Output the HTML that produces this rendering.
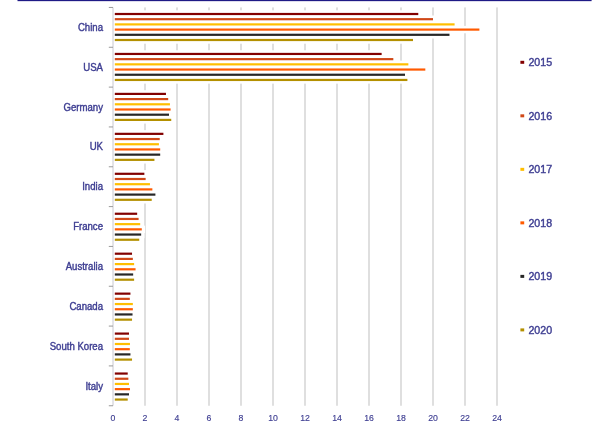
<!DOCTYPE html>
<html><head><meta charset="utf-8"><style>
html,body{margin:0;padding:0;background:#fff;width:600px;height:430px;overflow:hidden}
svg{display:block;filter:blur(0.45px)}
.t{font-family:"Liberation Sans",sans-serif;font-size:10px;fill:#3e3e92;stroke:#3e3e92;stroke-width:0.4}
.tx{font-family:"Liberation Sans",sans-serif;font-size:9.7px;fill:#3e3e92;stroke:#3e3e92;stroke-width:0.15}
.lg{font-family:"Liberation Sans",sans-serif;font-size:11px;fill:#3e3e92;stroke:#3e3e92;stroke-width:0.4}
</style></head><body>
<svg width="600" height="430" viewBox="0 0 600 430">
<rect width="600" height="430" fill="#fff"/>
<rect x="17.5" y="0" width="574.1" height="1.15" fill="#1f1a86"/>
<line x1="145.00" y1="7.45" x2="145.00" y2="405.75" stroke="#bcbcbc" stroke-width="0.95"/>
<line x1="177.00" y1="7.45" x2="177.00" y2="405.75" stroke="#bcbcbc" stroke-width="0.95"/>
<line x1="209.00" y1="7.45" x2="209.00" y2="405.75" stroke="#bcbcbc" stroke-width="0.95"/>
<line x1="241.00" y1="7.45" x2="241.00" y2="405.75" stroke="#bcbcbc" stroke-width="0.95"/>
<line x1="273.00" y1="7.45" x2="273.00" y2="405.75" stroke="#bcbcbc" stroke-width="0.95"/>
<line x1="305.00" y1="7.45" x2="305.00" y2="405.75" stroke="#bcbcbc" stroke-width="0.95"/>
<line x1="337.00" y1="7.45" x2="337.00" y2="405.75" stroke="#bcbcbc" stroke-width="0.95"/>
<line x1="369.00" y1="7.45" x2="369.00" y2="405.75" stroke="#bcbcbc" stroke-width="0.95"/>
<line x1="401.00" y1="7.45" x2="401.00" y2="405.75" stroke="#bcbcbc" stroke-width="0.95"/>
<line x1="433.00" y1="7.45" x2="433.00" y2="405.75" stroke="#bcbcbc" stroke-width="0.95"/>
<line x1="465.00" y1="7.45" x2="465.00" y2="405.75" stroke="#bcbcbc" stroke-width="0.95"/>
<line x1="497.00" y1="7.45" x2="497.00" y2="405.75" stroke="#bcbcbc" stroke-width="0.95"/>
<rect x="111.50" y="10.30" width="310.08" height="7.40" fill="#fff"/>
<rect x="111.50" y="15.50" width="324.80" height="7.40" fill="#fff"/>
<rect x="111.50" y="20.70" width="346.40" height="7.40" fill="#fff"/>
<rect x="111.50" y="25.90" width="371.20" height="7.40" fill="#fff"/>
<rect x="111.50" y="31.10" width="341.28" height="7.40" fill="#fff"/>
<rect x="111.50" y="36.30" width="304.80" height="7.40" fill="#fff"/>
<rect x="111.50" y="50.25" width="273.44" height="7.40" fill="#fff"/>
<rect x="111.50" y="55.45" width="285.12" height="7.40" fill="#fff"/>
<rect x="111.50" y="60.65" width="300.16" height="7.40" fill="#fff"/>
<rect x="111.50" y="65.85" width="317.12" height="7.40" fill="#fff"/>
<rect x="111.50" y="71.05" width="296.80" height="7.40" fill="#fff"/>
<rect x="111.50" y="76.25" width="299.20" height="7.40" fill="#fff"/>
<rect x="111.50" y="90.20" width="57.76" height="7.40" fill="#fff"/>
<rect x="111.50" y="95.40" width="60.00" height="7.40" fill="#fff"/>
<rect x="111.50" y="100.60" width="61.76" height="7.40" fill="#fff"/>
<rect x="111.50" y="105.80" width="62.40" height="7.40" fill="#fff"/>
<rect x="111.50" y="111.00" width="60.80" height="7.40" fill="#fff"/>
<rect x="111.50" y="116.20" width="63.04" height="7.40" fill="#fff"/>
<rect x="111.50" y="130.15" width="55.20" height="7.40" fill="#fff"/>
<rect x="111.50" y="135.35" width="51.52" height="7.40" fill="#fff"/>
<rect x="111.50" y="140.55" width="50.72" height="7.40" fill="#fff"/>
<rect x="111.50" y="145.75" width="52.00" height="7.40" fill="#fff"/>
<rect x="111.50" y="150.95" width="52.00" height="7.40" fill="#fff"/>
<rect x="111.50" y="156.15" width="46.24" height="7.40" fill="#fff"/>
<rect x="111.50" y="170.10" width="36.16" height="7.40" fill="#fff"/>
<rect x="111.50" y="175.30" width="37.44" height="7.40" fill="#fff"/>
<rect x="111.50" y="180.50" width="41.76" height="7.40" fill="#fff"/>
<rect x="111.50" y="185.70" width="44.16" height="7.40" fill="#fff"/>
<rect x="111.50" y="190.90" width="47.20" height="7.40" fill="#fff"/>
<rect x="111.50" y="196.10" width="43.52" height="7.40" fill="#fff"/>
<rect x="111.50" y="210.05" width="28.96" height="7.40" fill="#fff"/>
<rect x="111.50" y="215.25" width="30.40" height="7.40" fill="#fff"/>
<rect x="111.50" y="220.45" width="32.00" height="7.40" fill="#fff"/>
<rect x="111.50" y="225.65" width="33.60" height="7.40" fill="#fff"/>
<rect x="111.50" y="230.85" width="32.96" height="7.40" fill="#fff"/>
<rect x="111.50" y="236.05" width="31.04" height="7.40" fill="#fff"/>
<rect x="111.50" y="250.00" width="23.84" height="7.40" fill="#fff"/>
<rect x="111.50" y="255.20" width="24.64" height="7.40" fill="#fff"/>
<rect x="111.50" y="260.40" width="25.92" height="7.40" fill="#fff"/>
<rect x="111.50" y="265.60" width="27.36" height="7.40" fill="#fff"/>
<rect x="111.50" y="270.80" width="24.96" height="7.40" fill="#fff"/>
<rect x="111.50" y="276.00" width="25.92" height="7.40" fill="#fff"/>
<rect x="111.50" y="289.95" width="22.24" height="7.40" fill="#fff"/>
<rect x="111.50" y="295.15" width="21.60" height="7.40" fill="#fff"/>
<rect x="111.50" y="300.35" width="24.64" height="7.40" fill="#fff"/>
<rect x="111.50" y="305.55" width="24.64" height="7.40" fill="#fff"/>
<rect x="111.50" y="310.75" width="24.32" height="7.40" fill="#fff"/>
<rect x="111.50" y="315.95" width="23.84" height="7.40" fill="#fff"/>
<rect x="111.50" y="329.90" width="20.80" height="7.40" fill="#fff"/>
<rect x="111.50" y="335.10" width="20.80" height="7.40" fill="#fff"/>
<rect x="111.50" y="340.30" width="21.76" height="7.40" fill="#fff"/>
<rect x="111.50" y="345.50" width="21.60" height="7.40" fill="#fff"/>
<rect x="111.50" y="350.70" width="22.24" height="7.40" fill="#fff"/>
<rect x="111.50" y="355.90" width="23.84" height="7.40" fill="#fff"/>
<rect x="111.50" y="369.85" width="19.52" height="7.40" fill="#fff"/>
<rect x="111.50" y="375.05" width="20.16" height="7.40" fill="#fff"/>
<rect x="111.50" y="380.25" width="20.80" height="7.40" fill="#fff"/>
<rect x="111.50" y="385.45" width="21.76" height="7.40" fill="#fff"/>
<rect x="111.50" y="390.65" width="20.80" height="7.40" fill="#fff"/>
<rect x="111.50" y="395.85" width="19.52" height="7.40" fill="#fff"/>
<rect x="114.8" y="12.90" width="303.48" height="2.2" fill="#820000"/>
<rect x="114.8" y="18.10" width="318.20" height="2.2" fill="#d04818"/>
<rect x="114.8" y="23.30" width="339.80" height="2.2" fill="#ffbe00"/>
<rect x="114.8" y="28.50" width="364.60" height="2.2" fill="#ff5a00"/>
<rect x="114.8" y="33.70" width="334.68" height="2.2" fill="#262626"/>
<rect x="114.8" y="38.90" width="298.20" height="2.2" fill="#b49000"/>
<rect x="114.8" y="52.85" width="266.84" height="2.2" fill="#820000"/>
<rect x="114.8" y="58.05" width="278.52" height="2.2" fill="#d04818"/>
<rect x="114.8" y="63.25" width="293.56" height="2.2" fill="#ffbe00"/>
<rect x="114.8" y="68.45" width="310.52" height="2.2" fill="#ff5a00"/>
<rect x="114.8" y="73.65" width="290.20" height="2.2" fill="#262626"/>
<rect x="114.8" y="78.85" width="292.60" height="2.2" fill="#b49000"/>
<rect x="114.8" y="92.80" width="51.16" height="2.2" fill="#820000"/>
<rect x="114.8" y="98.00" width="53.40" height="2.2" fill="#d04818"/>
<rect x="114.8" y="103.20" width="55.16" height="2.2" fill="#ffbe00"/>
<rect x="114.8" y="108.40" width="55.80" height="2.2" fill="#ff5a00"/>
<rect x="114.8" y="113.60" width="54.20" height="2.2" fill="#262626"/>
<rect x="114.8" y="118.80" width="56.44" height="2.2" fill="#b49000"/>
<rect x="114.8" y="132.75" width="48.60" height="2.2" fill="#820000"/>
<rect x="114.8" y="137.95" width="44.92" height="2.2" fill="#d04818"/>
<rect x="114.8" y="143.15" width="44.12" height="2.2" fill="#ffbe00"/>
<rect x="114.8" y="148.35" width="45.40" height="2.2" fill="#ff5a00"/>
<rect x="114.8" y="153.55" width="45.40" height="2.2" fill="#262626"/>
<rect x="114.8" y="158.75" width="39.64" height="2.2" fill="#b49000"/>
<rect x="114.8" y="172.70" width="29.56" height="2.2" fill="#820000"/>
<rect x="114.8" y="177.90" width="30.84" height="2.2" fill="#d04818"/>
<rect x="114.8" y="183.10" width="35.16" height="2.2" fill="#ffbe00"/>
<rect x="114.8" y="188.30" width="37.56" height="2.2" fill="#ff5a00"/>
<rect x="114.8" y="193.50" width="40.60" height="2.2" fill="#262626"/>
<rect x="114.8" y="198.70" width="36.92" height="2.2" fill="#b49000"/>
<rect x="114.8" y="212.65" width="22.36" height="2.2" fill="#820000"/>
<rect x="114.8" y="217.85" width="23.80" height="2.2" fill="#d04818"/>
<rect x="114.8" y="223.05" width="25.40" height="2.2" fill="#ffbe00"/>
<rect x="114.8" y="228.25" width="27.00" height="2.2" fill="#ff5a00"/>
<rect x="114.8" y="233.45" width="26.36" height="2.2" fill="#262626"/>
<rect x="114.8" y="238.65" width="24.44" height="2.2" fill="#b49000"/>
<rect x="114.8" y="252.60" width="17.24" height="2.2" fill="#820000"/>
<rect x="114.8" y="257.80" width="18.04" height="2.2" fill="#d04818"/>
<rect x="114.8" y="263.00" width="19.32" height="2.2" fill="#ffbe00"/>
<rect x="114.8" y="268.20" width="20.76" height="2.2" fill="#ff5a00"/>
<rect x="114.8" y="273.40" width="18.36" height="2.2" fill="#262626"/>
<rect x="114.8" y="278.60" width="19.32" height="2.2" fill="#b49000"/>
<rect x="114.8" y="292.55" width="15.64" height="2.2" fill="#820000"/>
<rect x="114.8" y="297.75" width="15.00" height="2.2" fill="#d04818"/>
<rect x="114.8" y="302.95" width="18.04" height="2.2" fill="#ffbe00"/>
<rect x="114.8" y="308.15" width="18.04" height="2.2" fill="#ff5a00"/>
<rect x="114.8" y="313.35" width="17.72" height="2.2" fill="#262626"/>
<rect x="114.8" y="318.55" width="17.24" height="2.2" fill="#b49000"/>
<rect x="114.8" y="332.50" width="14.20" height="2.2" fill="#820000"/>
<rect x="114.8" y="337.70" width="14.20" height="2.2" fill="#d04818"/>
<rect x="114.8" y="342.90" width="15.16" height="2.2" fill="#ffbe00"/>
<rect x="114.8" y="348.10" width="15.00" height="2.2" fill="#ff5a00"/>
<rect x="114.8" y="353.30" width="15.64" height="2.2" fill="#262626"/>
<rect x="114.8" y="358.50" width="17.24" height="2.2" fill="#b49000"/>
<rect x="114.8" y="372.45" width="12.92" height="2.2" fill="#820000"/>
<rect x="114.8" y="377.65" width="13.56" height="2.2" fill="#d04818"/>
<rect x="114.8" y="382.85" width="14.20" height="2.2" fill="#ffbe00"/>
<rect x="114.8" y="388.05" width="15.16" height="2.2" fill="#ff5a00"/>
<rect x="114.8" y="393.25" width="14.20" height="2.2" fill="#262626"/>
<rect x="114.8" y="398.45" width="12.92" height="2.2" fill="#b49000"/>
<line x1="113.00" y1="7.45" x2="113.00" y2="405.75" stroke="#c8c8d0" stroke-width="1"/>
<line x1="108.8" y1="7.45" x2="113.00" y2="7.45" stroke="#9a9a9a" stroke-width="1"/>
<line x1="108.8" y1="47.28" x2="113.00" y2="47.28" stroke="#9a9a9a" stroke-width="1"/>
<line x1="108.8" y1="87.11" x2="113.00" y2="87.11" stroke="#9a9a9a" stroke-width="1"/>
<line x1="108.8" y1="126.94" x2="113.00" y2="126.94" stroke="#9a9a9a" stroke-width="1"/>
<line x1="108.8" y1="166.77" x2="113.00" y2="166.77" stroke="#9a9a9a" stroke-width="1"/>
<line x1="108.8" y1="206.60" x2="113.00" y2="206.60" stroke="#9a9a9a" stroke-width="1"/>
<line x1="108.8" y1="246.43" x2="113.00" y2="246.43" stroke="#9a9a9a" stroke-width="1"/>
<line x1="108.8" y1="286.26" x2="113.00" y2="286.26" stroke="#9a9a9a" stroke-width="1"/>
<line x1="108.8" y1="326.09" x2="113.00" y2="326.09" stroke="#9a9a9a" stroke-width="1"/>
<line x1="108.8" y1="365.92" x2="113.00" y2="365.92" stroke="#9a9a9a" stroke-width="1"/>
<line x1="108.8" y1="405.75" x2="113.00" y2="405.75" stroke="#9a9a9a" stroke-width="1"/>
<text transform="translate(103 30.85) scale(0.96 1)" text-anchor="end" class="t">China</text>
<text transform="translate(103 70.72) scale(0.96 1)" text-anchor="end" class="t">USA</text>
<text transform="translate(103 110.59) scale(0.96 1)" text-anchor="end" class="t">Germany</text>
<text transform="translate(103 150.46) scale(0.96 1)" text-anchor="end" class="t">UK</text>
<text transform="translate(103 190.33) scale(0.96 1)" text-anchor="end" class="t">India</text>
<text transform="translate(103 230.20) scale(0.96 1)" text-anchor="end" class="t">France</text>
<text transform="translate(103 270.07) scale(0.96 1)" text-anchor="end" class="t">Australia</text>
<text transform="translate(103 309.94) scale(0.96 1)" text-anchor="end" class="t">Canada</text>
<text transform="translate(103 349.81) scale(0.96 1)" text-anchor="end" class="t">South Korea</text>
<text transform="translate(103 389.68) scale(0.96 1)" text-anchor="end" class="t">Italy</text>
<text transform="translate(113.00 420.9) scale(0.9 1)" text-anchor="middle" class="tx">0</text>
<text transform="translate(145.00 420.9) scale(0.9 1)" text-anchor="middle" class="tx">2</text>
<text transform="translate(177.00 420.9) scale(0.9 1)" text-anchor="middle" class="tx">4</text>
<text transform="translate(209.00 420.9) scale(0.9 1)" text-anchor="middle" class="tx">6</text>
<text transform="translate(241.00 420.9) scale(0.9 1)" text-anchor="middle" class="tx">8</text>
<text transform="translate(273.00 420.9) scale(0.9 1)" text-anchor="middle" class="tx">10</text>
<text transform="translate(305.00 420.9) scale(0.9 1)" text-anchor="middle" class="tx">12</text>
<text transform="translate(337.00 420.9) scale(0.9 1)" text-anchor="middle" class="tx">14</text>
<text transform="translate(369.00 420.9) scale(0.9 1)" text-anchor="middle" class="tx">16</text>
<text transform="translate(401.00 420.9) scale(0.9 1)" text-anchor="middle" class="tx">18</text>
<text transform="translate(433.00 420.9) scale(0.9 1)" text-anchor="middle" class="tx">20</text>
<text transform="translate(465.00 420.9) scale(0.9 1)" text-anchor="middle" class="tx">22</text>
<text transform="translate(497.00 420.9) scale(0.9 1)" text-anchor="middle" class="tx">24</text>
<rect x="520.4" y="60.80" width="3.8" height="3.0" fill="#820000"/>
<text transform="translate(528.4 66.10) scale(0.97 1)" class="lg">2015</text>
<rect x="520.4" y="114.32" width="3.8" height="3.0" fill="#d04818"/>
<text transform="translate(528.4 119.62) scale(0.97 1)" class="lg">2016</text>
<rect x="520.4" y="167.84" width="3.8" height="3.0" fill="#ffbe00"/>
<text transform="translate(528.4 173.14) scale(0.97 1)" class="lg">2017</text>
<rect x="520.4" y="221.36" width="3.8" height="3.0" fill="#ff5a00"/>
<text transform="translate(528.4 226.66) scale(0.97 1)" class="lg">2018</text>
<rect x="520.4" y="274.88" width="3.8" height="3.0" fill="#262626"/>
<text transform="translate(528.4 280.18) scale(0.97 1)" class="lg">2019</text>
<rect x="520.4" y="328.40" width="3.8" height="3.0" fill="#b49000"/>
<text transform="translate(528.4 333.70) scale(0.97 1)" class="lg">2020</text>
</svg>
</body></html>
